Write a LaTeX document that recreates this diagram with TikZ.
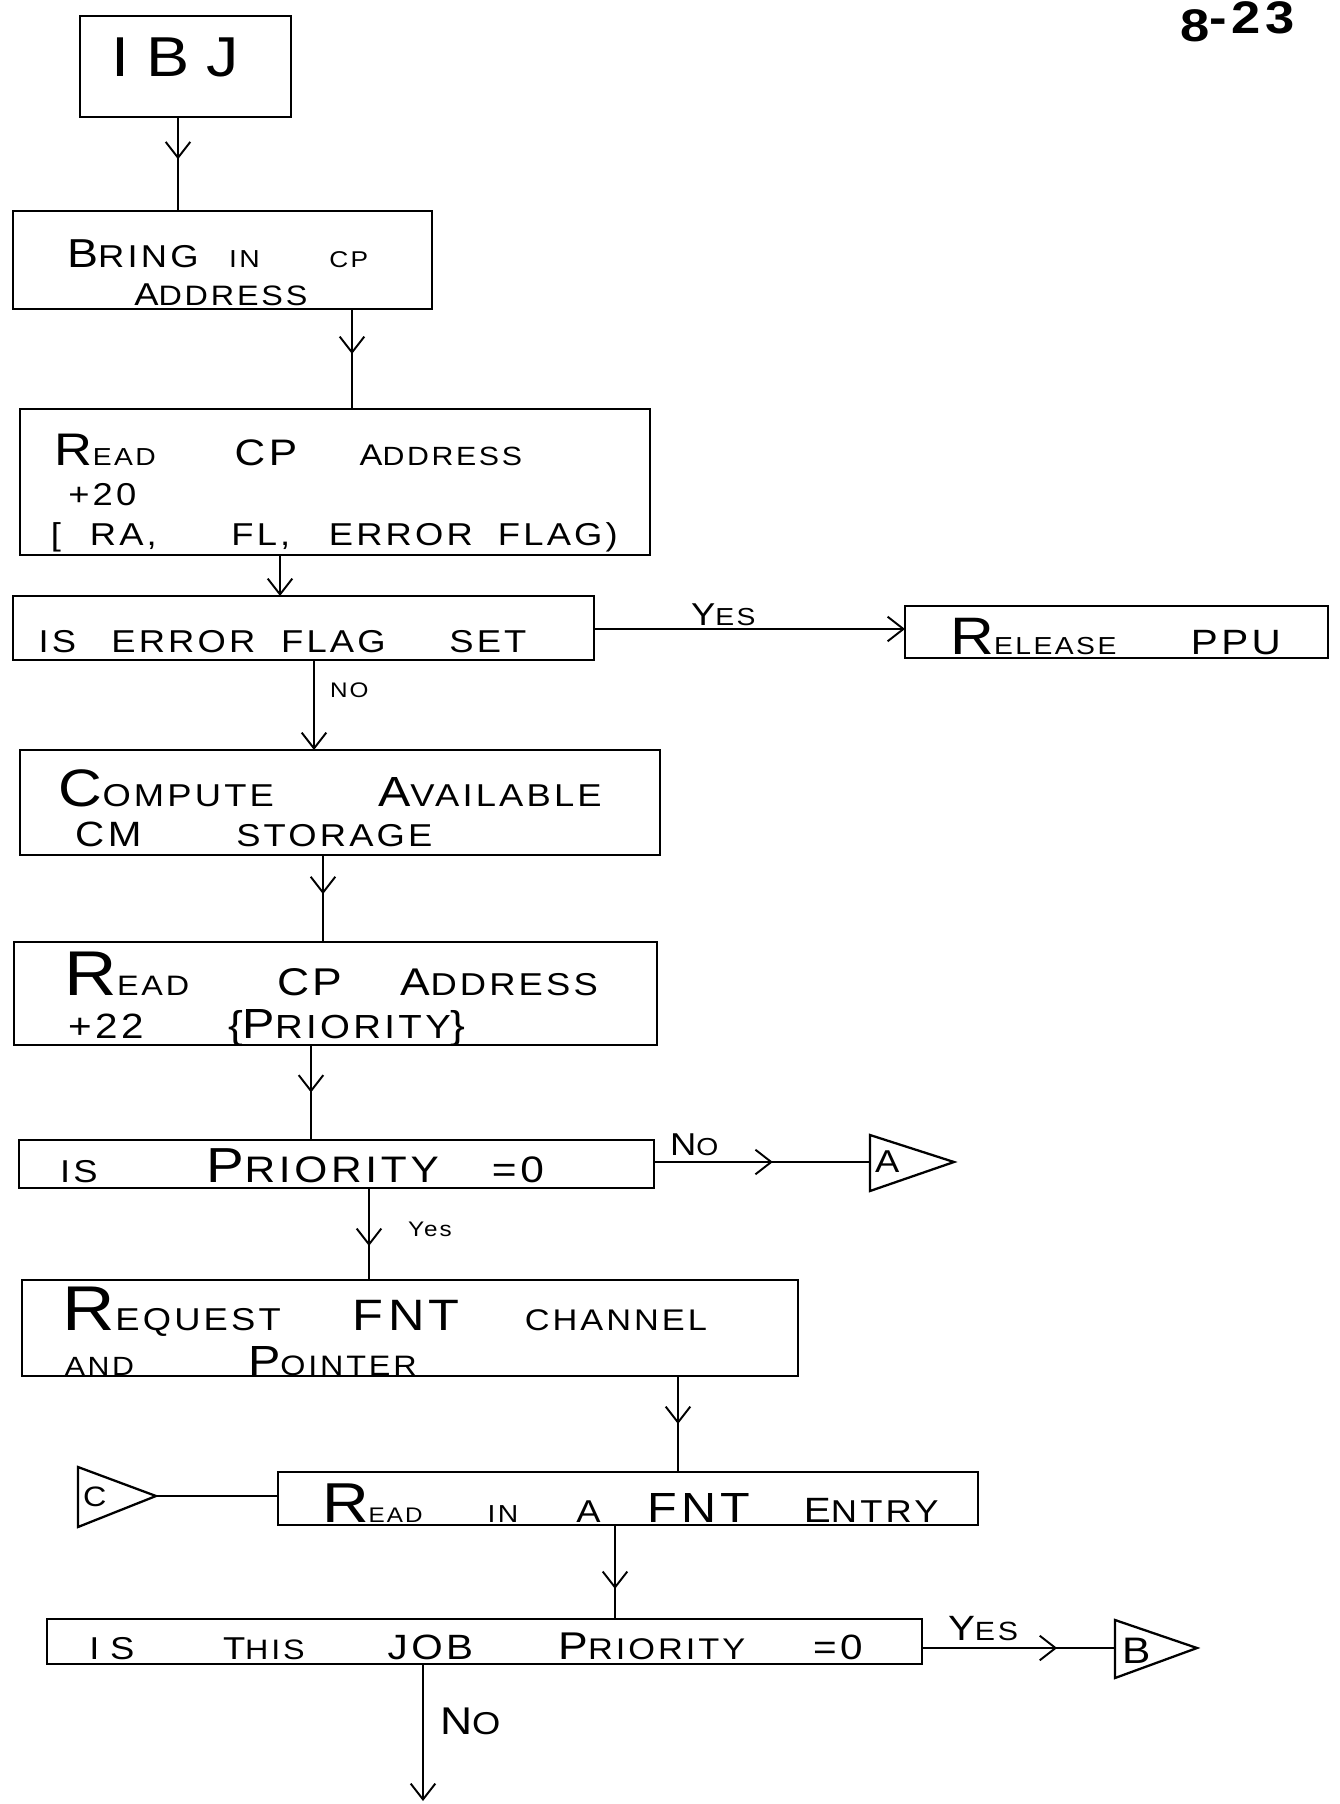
\documentclass[tikz,border=0pt]{standalone}
\usepackage{fontspec}
\setmainfont{Liberation Sans}[FakeStretch=1.15, LetterSpace=10]
\usetikzlibrary{arrows.meta,decorations.markings,fit}
% one drawing unit = one pixel of the sheet
\newlength\pxu \setlength\pxu{0.02cm}
\newcommand\fs[1]{\fontsize{#1}{#1}\selectfont}
% large initial letter followed by smaller capitals
\newcommand\hw[4]{{\fs{#1}#2}{\fs{#3}#4}}
% a word centred on a slot: offset and slot width in pixels from the line start
\newcommand\wat[3]{\rlap{\hspace*{#1\pxu}\makebox[#2\pxu][c]{#3}}}
\begin{document}
\begin{tikzpicture}[x=0.02cm,y=-0.02cm,
  flowbox/.style={draw, line width=1.3pt, inner sep=0pt, outer sep=0pt},
  handtext/.style={anchor=base west, inner sep=0pt, outer sep=0pt},
  link/.style={line width=1.1pt},
  barb/.style={-{Straight Barb[length=9pt,width=14pt]}},
  midbarb/.style={postaction={decorate}, decoration={markings,
      mark=at position #1 with {\arrow{Straight Barb[length=9pt,width=14pt]}}}},
]
\fill[white] (0,0) rectangle (1339,1804);
\useasboundingbox (0,0) rectangle (1339,1804);

% page number
\node[handtext] (page) at (1180,42) {\fs{26}\bfseries 8\raisebox{5pt}{-23}};

% ---------- boxes ----------
\node[flowbox, fit={(80,16) (291,117)}] (ibj) {};
\node[flowbox, fit={(13,211) (432,309)}] (bring) {};
\node[flowbox, fit={(20,409) (650,555)}] (read20) {};
\node[flowbox, fit={(13,596) (594,660)}] (iserr) {};
\node[flowbox, fit={(905,606) (1328,658)}] (release) {};
\node[flowbox, fit={(20,750) (660,855)}] (compute) {};
\node[flowbox, fit={(14,942) (657,1045)}] (read22) {};
\node[flowbox, fit={(19,1140) (654,1188)}] (ispri) {};
\node[flowbox, fit={(22,1280) (798,1376)}] (request) {};
\node[flowbox, fit={(278,1472) (978,1525)}] (readfnt) {};
\node[flowbox, fit={(47,1619) (922,1664)}] (isjob) {};

% ---------- off-page connectors ----------
\draw[line width=1.3pt] (870,1135) -- (954,1162) -- (870,1191) -- cycle;
\coordinate (abase) at (870,1162);
\node[handtext] (alab) at (875,1172) {\fs{18}A};
\draw[line width=1.3pt] (1115,1620) -- (1197,1648) -- (1115,1678) -- cycle;
\coordinate (bbase) at (1115,1648);
\node[handtext] (blab) at (1122,1663) {\fs{21}B};
\draw[line width=1.3pt] (78,1467) -- (156,1496) -- (78,1527) -- cycle;
\coordinate (ctip) at (156,1496);
\node[handtext] (clab) at (83,1506) {\fs{16}C};

% ---------- box texts ----------
\node[handtext] (ibjt) at (111,77) {\makebox[128\pxu][l]{\fs{32}I\hfill B\hfill J}};

\node[handtext] (bringa) at (49,268) {\wat{0}{166}{\hw{23}{B}{18}{RING}}\wat{182}{25}{\fs{14}IN}\wat{280}{38}{\fs{13}CP}};
\node[handtext] (bringb) at (132,306) {\wat{0}{176}{\hw{18}{A}{16}{DDRESS}}};

\node[handtext] (r20a) at (53,465) {\wat{0}{103}{\hw{26}{R}{14}{EAD}}\wat{178}{68}{\fs{21}CP}\wat{304}{166}{\hw{17}{A}{15}{DDRESS}}};
\node[handtext] (r20b) at (53,505) {\wat{0}{97}{\fs{18}+20}};
\node[handtext, font=\fs{18}] (r20c) at (49,545) {\wat{0}{12}{[}\wat{31}{85}{RA,}\wat{181}{60}{FL,}\wat{281}{140}{ERROR}\wat{441}{134}{FLAG)}};

\node[handtext, font=\fs{18}] (iserrt) at (38,652) {\wat{0}{37}{IS}\wat{82}{125}{ERROR}\wat{237}{115}{FLAG}\wat{402}{94}{SET}};

\node[handtext] (releaset) at (948,654) {\wat{0}{169}{\hw{30}{R}{14}{ELEASE}}\wat{241}{92}{\fs{20}PPU}};

\node[handtext] (compa) at (41,806) {\wat{0}{249}{\hw{30}{C}{18}{OMPUTE}}\wat{322}{252}{\hw{24}{A}{18}{VAILABLE}}};
\node[handtext] (compb) at (60,846) {\wat{0}{95}{\fs{20}CM}\wat{180}{187}{\fs{18}STORAGE}};

\node[handtext] (r22a) at (64,995) {\wat{0}{124}{\hw{36}{R}{16}{EAD}}\wat{209}{72}{\fs{22}CP}\wat{331}{207}{\hw{22}{A}{18}{DDRESS}}};
\node[handtext] (r22b) at (60,1038) {\wat{0}{90}{\fs{20}+22}\wat{145}{282}{{\fs{22}\{}\hw{24}{P}{19}{RIORITY}{\fs{22}\}}}};

\node[handtext] (isprit) at (45,1182) {\wat{0}{66}{\fs{18}IS}\wat{155}{244}{\hw{28}{P}{21}{RIORITY}}\wat{442}{60}{\fs{21}=0}};

\node[handtext] (reqa) at (64,1330) {\wat{0}{214}{\hw{36}{R}{18}{EQUEST}}\wat{286}{111}{\fs{25}FNT}\wat{453}{196}{\fs{17}CHANNEL}};
\node[handtext] (reqb) at (56,1375) {\wat{0}{85}{\fs{15}AND}\wat{188}{175}{\hw{24}{P}{16}{OINTER}}};

\node[handtext] (readfntt) at (320,1522) {\wat{0}{103}{\hw{32}{R}{12}{EAD}}\wat{163}{38}{\fs{14}IN}\wat{248}{39}{\fs{18}A}\wat{321}{114}{\fs{24}FNT}\wat{478}{145}{\hw{20}{E}{18}{NTRY}}};

\node[handtext] (isjobt) at (81,1659) {\wat{0}{60}{\fs{18}I\,\,S}\wat{133}{98}{\hw{18}{T}{16}{HIS}}\wat{295}{107}{\fs{20}JOB}\wat{466}{208}{\hw{22}{P}{17}{RIORITY}}\wat{726}{60}{\fs{20}=0}};

% ---------- connectors ----------
\draw[link, midbarb=0.45] (ibj.south -| 178,0) -- (bring.north -| 178,0);
\draw[link, midbarb=0.45] (bring.south -| 352,0) -- (read20.north -| 352,0);
\draw[link, barb] (read20.south -| 280,0) -- (iserr.north -| 280,0);
\draw[link, barb] (iserr.south -| 314,0) -- (compute.north -| 314,0);
\draw[link, midbarb=0.45] (compute.south -| 323,0) -- (read22.north -| 323,0);
\draw[link, midbarb=0.5] (read22.south -| 311,0) -- (ispri.north -| 311,0);
\draw[link, midbarb=0.63] (ispri.south -| 369,0) -- (request.north -| 369,0);
\draw[link, midbarb=0.5] (request.south -| 678,0) -- (readfnt.north -| 678,0);
\draw[link, midbarb=0.68] (readfnt.south -| 615,0) -- (isjob.north -| 615,0);
\coordinate (jobexit) at (423,1801);
\draw[link, barb] (isjob.south -| jobexit) -- (jobexit);

\draw[link, barb] (iserr.east |- 0,629) -- (release.west |- 0,629);
\draw[link, midbarb=0.55] (ispri.east |- abase) -- (abase);
\draw[link, midbarb=0.7] (isjob.east |- bbase) -- (bbase);
\draw[link] (ctip) -- (readfnt.west |- ctip);

% ---------- branch labels ----------
\node[handtext] (yes1) at (691,625) {\hw{18}{Y}{14}{ES}};
\node[handtext] (no1) at (330,697) {\fs{12}NO};
\node[handtext] (no2) at (670,1155) {\hw{18}{N}{14}{O}};
\node[handtext] (yes2) at (408,1236) {\fs{12}Yes};
\node[handtext] (yes3) at (948,1640) {\hw{20}{Y}{15}{ES}};
\node[handtext] (no3) at (440,1734) {\hw{22}{N}{18}{O}};
\end{tikzpicture}
\end{document}
